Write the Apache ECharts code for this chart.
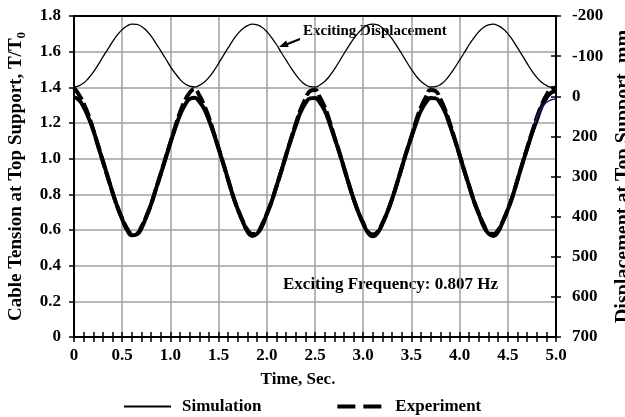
<!DOCTYPE html>
<html>
<head>
<meta charset="utf-8">
<script src="https://cdn.jsdelivr.net/npm/echarts@6/dist/echarts.min.js"></script>
<style>
  html, body { margin: 0; padding: 0; background: #fff; }
  #main { width: 625px; height: 417px; }
</style>
</head>
<body>
<div id="main"></div>
<script>
var FONT = "'Liberation Serif', 'Times New Roman', serif";

// time, s (0.05 s steps)
var times = [
  0, 0.05, 0.1, 0.15, 0.2, 0.25, 0.3, 0.35, 0.4, 0.45,
  0.5, 0.55, 0.6, 0.65, 0.7, 0.75, 0.8, 0.85, 0.9, 0.95,
  1.0, 1.05, 1.1, 1.15, 1.2, 1.25, 1.3, 1.35, 1.4, 1.45,
  1.5, 1.55, 1.6, 1.65, 1.7, 1.75, 1.8, 1.85, 1.9, 1.95,
  2.0, 2.05, 2.1, 2.15, 2.2, 2.25, 2.3, 2.35, 2.4, 2.45,
  2.5, 2.55, 2.6, 2.65, 2.7, 2.75, 2.8, 2.85, 2.9, 2.95,
  3.0, 3.05, 3.1, 3.15, 3.2, 3.25, 3.3, 3.35, 3.4, 3.45,
  3.5, 3.55, 3.6, 3.65, 3.7, 3.75, 3.8, 3.85, 3.9, 3.95,
  4.0, 4.05, 4.1, 4.15, 4.2, 4.25, 4.3, 4.35, 4.4, 4.45,
  4.5, 4.55, 4.6, 4.65, 4.7, 4.75, 4.8, 4.85, 4.9, 4.95,
  5.0
];

// cable tension T/T0, simulation
var simulation = [
  1.345, 1.33, 1.29, 1.23, 1.16, 1.07, 0.985, 0.90, 0.81, 0.73,
  0.66, 0.60, 0.57, 0.575, 0.61, 0.675, 0.745, 0.83, 0.915, 1.00,
  1.09, 1.17, 1.245, 1.30, 1.335, 1.342, 1.32, 1.28, 1.215, 1.14,
  1.055, 0.97, 0.88, 0.79, 0.715, 0.65, 0.59, 0.567, 0.58, 0.62,
  0.69, 0.76, 0.845, 0.93, 1.02, 1.105, 1.185, 1.26, 1.31, 1.338,
  1.34, 1.315, 1.27, 1.20, 1.12, 1.04, 0.95, 0.86, 0.775, 0.70,
  0.635, 0.585, 0.565, 0.585, 0.635, 0.70, 0.775, 0.86, 0.95, 1.04,
  1.12, 1.20, 1.27, 1.315, 1.34, 1.338, 1.31, 1.26, 1.185, 1.105,
  1.02, 0.93, 0.845, 0.76, 0.69, 0.62, 0.58, 0.567, 0.59, 0.65,
  0.715, 0.79, 0.88, 0.97, 1.055, 1.14, 1.215, 1.29, 1.34, 1.37,
  1.38
];

// cable tension T/T0, experiment
var experiment = [
  1.395, 1.36, 1.31, 1.245, 1.16, 1.075, 0.985, 0.895, 0.81, 0.73,
  0.665, 0.61, 0.58, 0.58, 0.62, 0.675, 0.745, 0.83, 0.915, 1.005,
  1.09, 1.18, 1.26, 1.325, 1.37, 1.39, 1.355, 1.30, 1.23, 1.145,
  1.06, 0.97, 0.88, 0.79, 0.715, 0.65, 0.60, 0.578, 0.585, 0.63,
  0.69, 0.76, 0.845, 0.93, 1.02, 1.11, 1.195, 1.275, 1.335, 1.38,
  1.385, 1.345, 1.29, 1.215, 1.125, 1.04, 0.95, 0.86, 0.775, 0.70,
  0.64, 0.59, 0.575, 0.59, 0.64, 0.70, 0.775, 0.86, 0.95, 1.04,
  1.125, 1.215, 1.29, 1.345, 1.385, 1.38, 1.335, 1.275, 1.195, 1.11,
  1.02, 0.93, 0.845, 0.76, 0.69, 0.63, 0.585, 0.578, 0.60, 0.65,
  0.715, 0.79, 0.88, 0.97, 1.06, 1.145, 1.23, 1.30, 1.355, 1.39,
  1.395
];

// exciting displacement at top support, mm (right axis)
var displacement = [
  -23, -26, -33, -45, -60, -78, -98, -117, -136, -153,
  -166, -175, -180, -179, -174, -164, -150, -132, -113, -94,
  -74, -57, -42, -31, -25, -23, -27, -35, -47, -63,
  -82, -102, -121, -140, -156, -168, -176, -180, -178, -172,
  -161, -146, -129, -109, -90, -71, -54, -39, -29, -24,
  -23, -28, -37, -50, -67, -86, -106, -125, -143, -158,
  -170, -178, -180, -178, -170, -158, -143, -125, -106, -86,
  -67, -50, -37, -28, -23, -24, -29, -39, -54, -71,
  -90, -109, -129, -146, -161, -172, -178, -180, -176, -168,
  -156, -140, -121, -102, -82, -63, -47, -35, -27, -23,
  -25
];

// short blue trace at the end
var tailTimes = [4.78, 4.82, 4.86, 4.9, 4.95, 5.0];
var tailValues = [1.20, 1.25, 1.29, 1.315, 1.33, 1.335];

var rightLabels = ['-200', '-100', '0', '200', '300', '400', '500', '600', '700'];

function pairs(xs, ys) {
  return xs.map(function (x, i) { return [x, ys[i]]; });
}

var labelStyle = { fontFamily: FONT, fontWeight: 'bold', fontSize: 17, color: '#000' };
var axisLine = { show: true, onZero: false, lineStyle: { color: '#000', width: 2 } };
var tickLine = { color: '#000', width: 1.5 };
var grid = { color: '#a0a0a0', width: 1.5 };

var option = {
  animation: false,
  backgroundColor: '#fff',
  grid: { left: 74, right: 69, top: 16, bottom: 80, containLabel: false, outerBoundsMode: 'none' },
  legend: {
    orient: 'horizontal',
    left: 118,
    top: 393,
    itemWidth: 47,
    itemHeight: 12,
    itemGap: 74,
    itemStyle: { color: 'transparent', borderColor: 'transparent', borderWidth: 0 },
    textStyle: { fontFamily: FONT, fontWeight: 'bold', fontSize: 17, color: '#000', padding: [0, 0, 0, 6] },
    data: [
      { name: 'Simulation', lineStyle: { width: 2, color: '#000', type: 'solid' } },
      { name: 'Experiment', lineStyle: { width: 4, color: '#000', type: [18, 8] } }
    ]
  },
  xAxis: [
    {
      type: 'value', min: 0, max: 5, interval: 0.5, position: 'bottom',
      axisLine: axisLine,
      axisTick: { show: true, inside: false, length: 5, lineStyle: tickLine },
      minorTick: { show: true, splitNumber: 5, length: 5, lineStyle: tickLine },
      splitLine: { show: true, lineStyle: grid },
      axisLabel: Object.assign({ margin: 10, formatter: function (v) { return v === 0 ? '0' : v.toFixed(1); } }, labelStyle),
      name: 'Time, Sec.',
      nameLocation: 'middle',
      nameGap: 34,
      nameTextStyle: Object.assign({ padding: [0, 34, 0, 0] }, labelStyle)
    },
    {
      type: 'value', min: 0, max: 5, interval: 0.5, position: 'bottom',
      axisLine: { show: false, onZero: false },
      axisTick: { show: true, inside: true, length: 5, lineStyle: tickLine },
      minorTick: { show: true, splitNumber: 5, length: 5, lineStyle: tickLine },
      splitLine: { show: false },
      axisLabel: { show: false }
    },
    {
      type: 'value', min: 0, max: 5, position: 'top',
      axisLine: axisLine,
      axisTick: { show: false },
      splitLine: { show: false },
      axisLabel: { show: false }
    }
  ],
  yAxis: [
    {
      type: 'value', min: 0, max: 1.8, interval: 0.2, position: 'left',
      axisLine: axisLine,
      axisTick: { show: true, inside: false, length: 5, lineStyle: tickLine },
      splitLine: { show: true, lineStyle: grid },
      axisLabel: Object.assign({ margin: 13, formatter: function (v) { return v === 0 ? '0' : v.toFixed(1); } }, labelStyle),
      name: 'Cable Tension at Top Support, T/T{sub|0}',
      nameLocation: 'middle',
      nameGap: 46,
      nameTextStyle: {
        fontFamily: FONT, fontWeight: 'bold', fontSize: 19, color: '#000',
        rich: { sub: { fontFamily: FONT, fontWeight: 'bold', fontSize: 13, color: '#000', verticalAlign: 'bottom', padding: [10, 0, 0, 0] } }
      }
    },
    {
      type: 'value', min: -200, max: 600, interval: 100, inverse: true, position: 'right',
      axisLine: axisLine,
      axisTick: { show: true, inside: false, length: 5, lineStyle: tickLine },
      splitLine: { show: false },
      axisLabel: Object.assign({ margin: 16, formatter: function (v) { return rightLabels[Math.round((v + 200) / 100)]; } }, labelStyle),
      name: 'Displacement at Top Support, mm',
      nameLocation: 'middle',
      nameGap: 55,
      nameTextStyle: { fontFamily: FONT, fontWeight: 'bold', fontSize: 20, color: '#000' }
    },
    {
      type: 'value', min: -200, max: 600, interval: 100, inverse: true, position: 'right',
      axisLine: { show: false, onZero: false },
      axisTick: { show: true, inside: true, length: 5, lineStyle: tickLine },
      splitLine: { show: false },
      axisLabel: { show: false }
    }
  ],
  graphic: [
    {
      type: 'text', left: 303, top: 24,
      style: { text: 'Exciting Displacement', font: 'bold 15px ' + FONT, fill: '#000' }
    },
    {
      type: 'line',
      shape: { x1: 300, y1: 39, x2: 285, y2: 45 },
      style: { stroke: '#000', lineWidth: 2 }
    },
    {
      type: 'polygon',
      shape: { points: [[279, 47], [288.7, 46.9], [286.1, 40.5]] },
      style: { fill: '#000' }
    },
    {
      type: 'text', left: 283, top: 276,
      style: { text: 'Exciting Frequency: 0.807 Hz', font: 'bold 17px ' + FONT, fill: '#000' }
    }
  ],
  series: [
    {
      name: 'Exciting Displacement', type: 'line', yAxisIndex: 1, symbol: 'none', smooth: true,
      lineStyle: { color: '#000', width: 1.3 },
      data: pairs(times, displacement), z: 3
    },
    {
      name: 'Simulation', type: 'line', yAxisIndex: 0, symbol: 'none', smooth: true,
      color: '#000',
      lineStyle: { color: '#000', width: 4 },
      data: pairs(times, simulation), z: 4
    },
    {
      name: 'Experiment', type: 'line', yAxisIndex: 0, symbol: 'none', smooth: true,
      color: '#000',
      lineStyle: { color: '#000', width: 4, type: [14, 4] },
      data: pairs(times, experiment), z: 5
    },
    {
      name: 'tail', type: 'line', yAxisIndex: 0, symbol: 'none', smooth: true,
      lineStyle: { color: '#1c1c8c', width: 1.5 },
      data: pairs(tailTimes, tailValues), z: 6
    }
  ]
};

var chart = echarts.init(document.getElementById('main'), null, { renderer: 'canvas' });
chart.setOption(option);
</script>
</body>
</html>
